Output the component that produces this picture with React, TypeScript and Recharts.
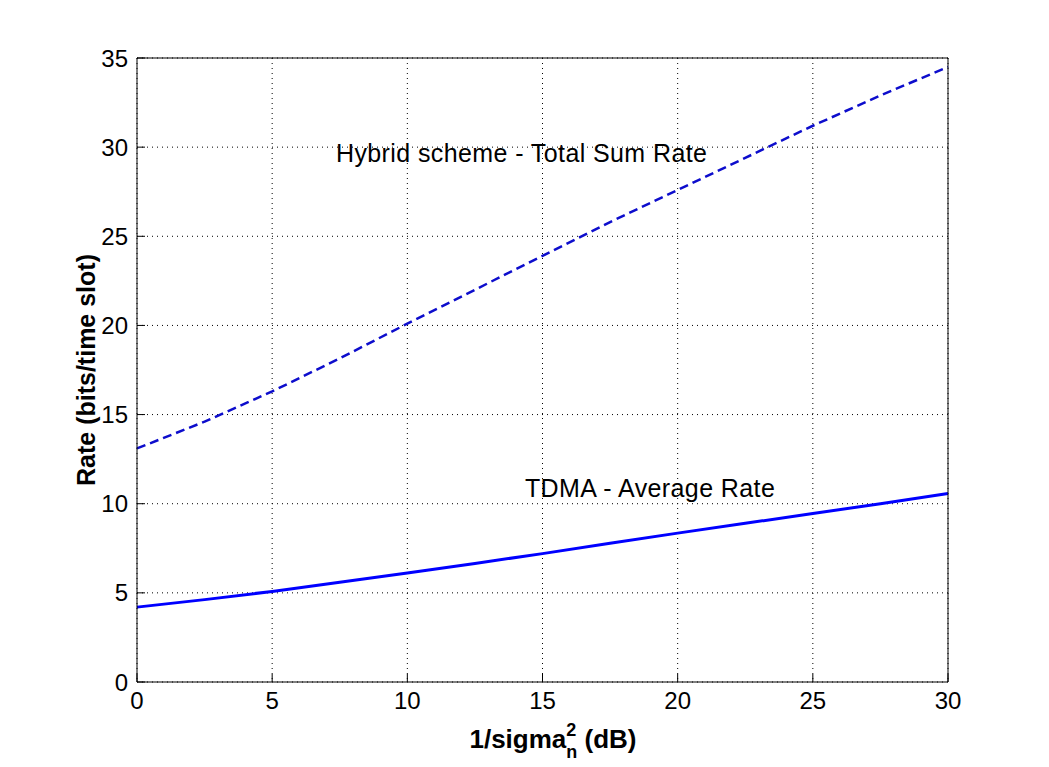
import {
  CartesianGrid,
  Line,
  LineChart,
  ReferenceDot,
  XAxis,
  YAxis,
} from 'recharts';

const snrDb = [0, 2.5, 5, 7.5, 10, 12.5, 15, 17.5, 20, 22.5, 25, 27.5, 30];
const hybridSumRate = [13.1, 14.6, 16.3, 18.15, 20.1, 22.0, 23.9, 25.8, 27.6, 29.4, 31.2, 32.9, 34.5];
const tdmaAvgRate = [4.2, 4.62, 5.08, 5.6, 6.12, 6.65, 7.2, 7.78, 8.35, 8.9, 9.45, 10.0, 10.57];

const xTicks = [0, 5, 10, 15, 20, 25, 30];
const yTicks = [0, 5, 10, 15, 20, 25, 30, 35];

const hybridLabel = { x: 7.36, y: 29.67, text: 'Hybrid scheme - Total Sum Rate' };
const tdmaLabel = { x: 14.35, y: 10.88, text: 'TDMA - Average Rate' };

const data = snrDb.map((x, i) => ({
  x,
  hybrid: hybridSumRate[i],
  tdma: tdmaAvgRate[i],
}));

const FONT = '"Liberation Sans", Arial, Helvetica, sans-serif';
const tickStyle = { fill: '#000', fontSize: 24, fontFamily: FONT };
const noteStyle = {
  fill: '#000',
  fontSize: 25,
  fontFamily: FONT,
  letterSpacing: 0.4,
};

function XLabel() {
  return (
    <text
      x={553}
      y={748}
      textAnchor="middle"
      fontFamily={FONT}
      fontWeight="bold"
      fontSize={26}
      fill="#000"
    >
      1/sigma
      <tspan dy={-12} fontSize={18}>2</tspan>
      <tspan dx={-10} dy={22} fontSize={18}>n</tspan>
      <tspan dy={-10}> (dB)</tspan>
    </text>
  );
}

function YLabel() {
  return (
    <text
      x={95}
      y={370}
      transform="rotate(-90, 95, 370)"
      textAnchor="middle"
      fontFamily={FONT}
      fontWeight="bold"
      fontSize={25}
      fill="#000"
    >
      Rate (bits/time slot)
    </text>
  );
}

export default function App() {
  return (
    <div style={{ position: 'absolute', left: 0, top: 0, background: '#fff' }}>
      <LineChart
        width={1049}
        height={767}
        data={data}
        margin={{ top: 48, right: 91, bottom: 25, left: 77 }}
      >
        <CartesianGrid stroke="#000" strokeDasharray="1 4" />
        <XAxis
          dataKey="x"
          type="number"
          domain={[0, 30]}
          ticks={xTicks}
          height={60}
          tickSize={-8}
          tickMargin={18}
          tick={tickStyle}
          stroke="#000"
          label={<XLabel />}
        />
        <XAxis
          xAxisId="top"
          orientation="top"
          dataKey="x"
          type="number"
          domain={[0, 30]}
          ticks={xTicks}
          height={10}
          tickSize={-8}
          tick={false}
          stroke="#000"
        />
        <YAxis
          type="number"
          domain={[0, 35]}
          ticks={yTicks}
          width={60}
          tickSize={-8}
          tickMargin={17}
          tick={tickStyle}
          stroke="#000"
          label={<YLabel />}
        />
        <YAxis
          yAxisId="right"
          orientation="right"
          type="number"
          domain={[0, 35]}
          ticks={yTicks}
          width={10}
          tickSize={-8}
          tick={false}
          stroke="#000"
        />
        <Line
          dataKey="hybrid"
          type="linear"
          stroke="#0d0dcc"
          strokeWidth={2.5}
          strokeDasharray="9 5"
          dot={false}
          isAnimationActive={false}
        />
        <Line
          dataKey="tdma"
          type="linear"
          stroke="#0000ff"
          strokeWidth={3}
          dot={false}
          isAnimationActive={false}
        />
        <ReferenceDot
          x={hybridLabel.x}
          y={hybridLabel.y}
          r={0}
          fill="none"
          stroke="none"
          ifOverflow="visible"
          label={{ value: hybridLabel.text, position: 'right', offset: 0, ...noteStyle }}
        />
        <ReferenceDot
          x={tdmaLabel.x}
          y={tdmaLabel.y}
          r={0}
          fill="none"
          stroke="none"
          ifOverflow="visible"
          label={{ value: tdmaLabel.text, position: 'right', offset: 0, ...noteStyle }}
        />
      </LineChart>
    </div>
  );
}
